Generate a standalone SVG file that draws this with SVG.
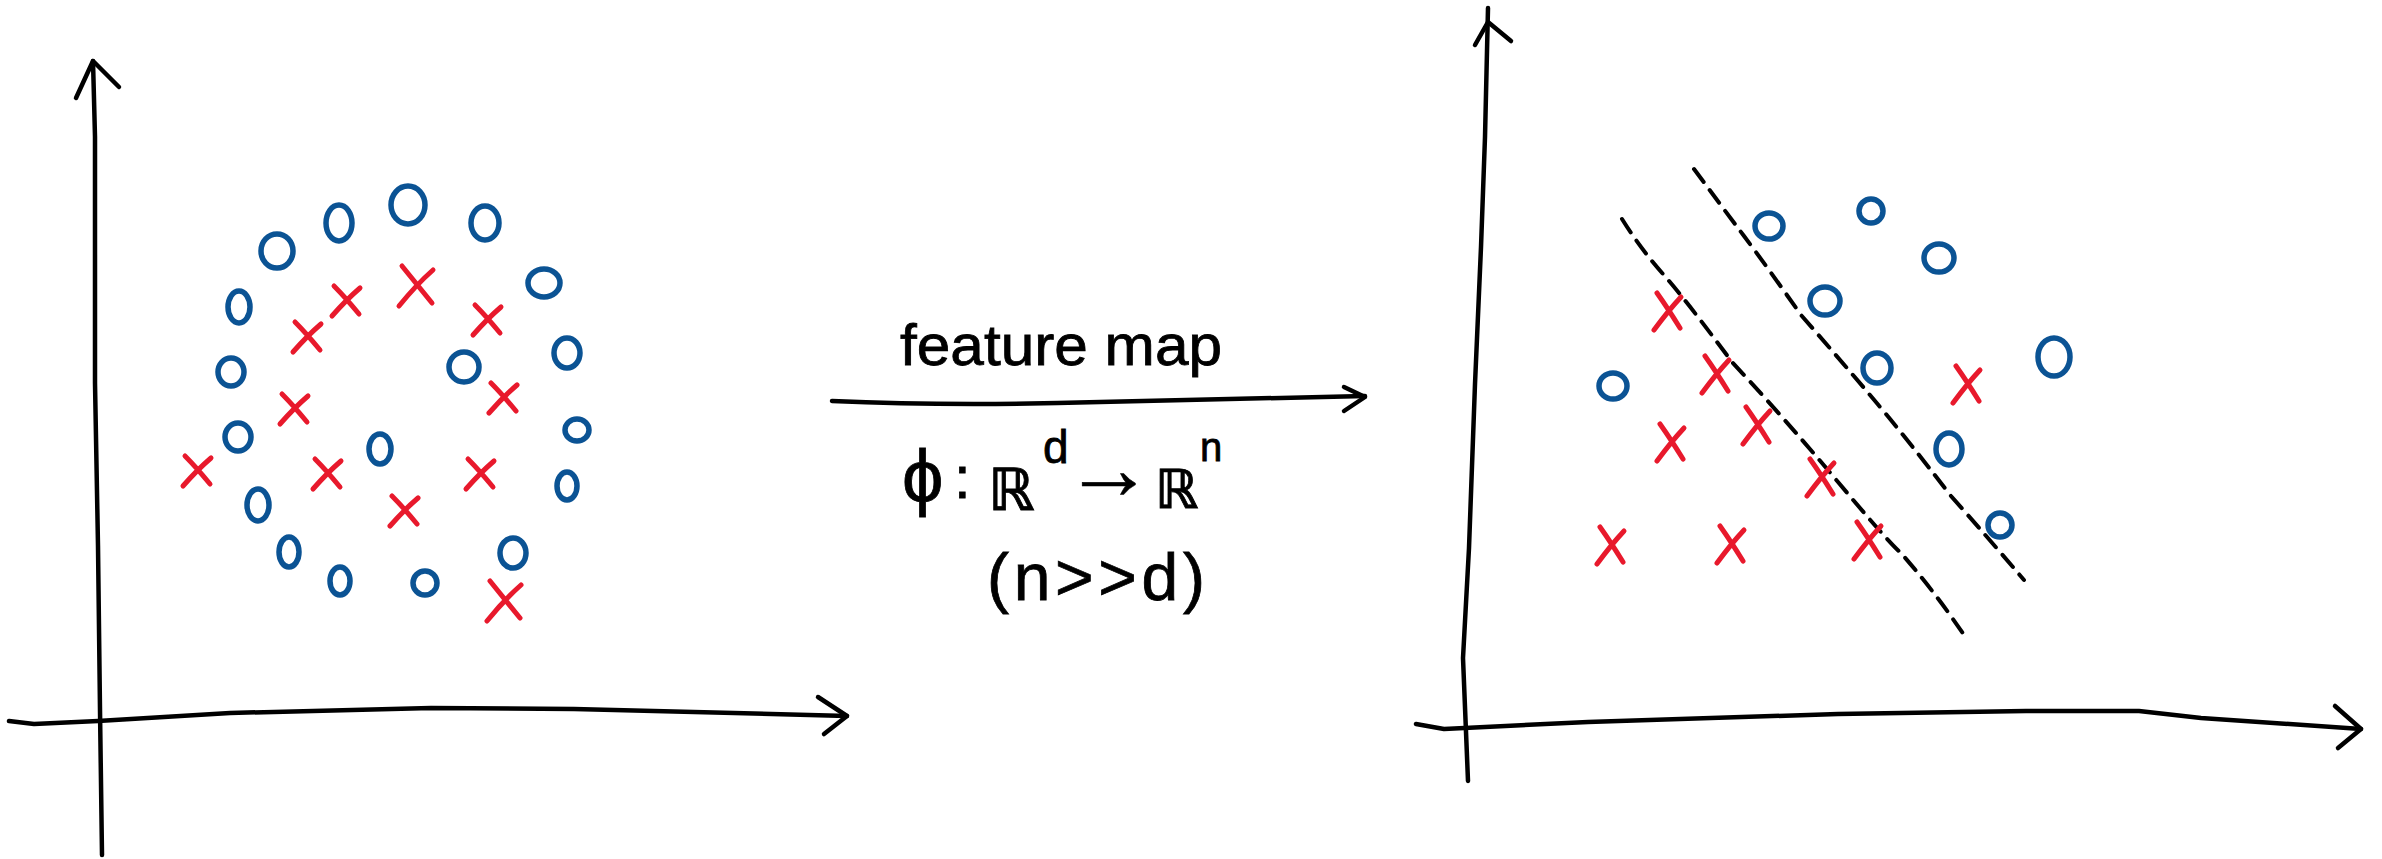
<svg xmlns="http://www.w3.org/2000/svg" xmlns:xlink="http://www.w3.org/1999/xlink" width="2382" height="859" viewBox="0 0 2382 859">
<style>
.ax{fill:none;stroke:#000;stroke-width:4.5;stroke-linecap:round;stroke-linejoin:round}
.dash{fill:none;stroke:#000;stroke-width:4;stroke-linecap:round;stroke-dasharray:16 10}
.o{fill:none;stroke:#0b5394;stroke-width:5.5}
.x{fill:none;stroke:#e8192c;stroke-width:5;stroke-linecap:round}
.t{font-family:"Liberation Sans","DejaVu Sans",sans-serif;fill:#000;stroke:#000;stroke-width:0.8}
.bb{font-family:"DejaVu Sans",sans-serif;font-weight:bold}
.ar{font-family:"Liberation Sans",sans-serif;font-weight:normal;stroke-width:0.5}
</style>
<defs>
<path id="xs" d="M-12,-14 Q-1,-3 13,14 M14,-12 Q0,0 -14,16"/>
<path id="xl" d="M-14,-19 Q-1,-3 16,18 M17,-15 Q0,0 -17,21"/>
<path id="xr" d="M-11,-18 Q-1,-4 12,17 M13,-14 Q0,0 -14,19"/>
</defs>
<rect width="2382" height="859" fill="#fff"/>

<g id="connectors">
<path class="ax" d="M102,855 L100,710 L98,546 L95,383 L95,137 L93,61"/>
<path class="ax" d="M76,98 L93,61 L119,87"/>
<path class="ax" d="M9,721 L34,724 L98,721 L230,713 L431,708 L574,709 L847,716"/>
<path class="ax" d="M818,697 L847,716 L824,734"/>
<path class="ax" d="M832,401 C900,404 1000,405 1100,402 C1200,400 1300,398 1365,396"/>
<path class="ax" d="M1344,387 L1365,397 L1344,411"/>
<path class="ax" d="M1468,781 L1463,658 L1469,548 L1475,384 L1481,247 L1485,137 L1488,8"/>
<path class="ax" d="M1475,45 L1488,22 L1511,41"/>
<path class="ax" d="M1416,724 L1444,729 L1588,722 L1838,714 L2026,711 L2139,711 L2201,718 L2361,729"/>
<path class="ax" d="M2335,706 L2361,729 L2338,748"/>
<path class="dash" d="M1694,169 Q1720,204 1744,236 T1801,315 Q1836,355 1870,395 T1951,496 Q1990,540 2024,580"/>
<path class="dash" d="M1622,219 Q1640,248 1663,274 T1732,362 Q1786,420 1838,482 T1901,553 Q1935,592 1964,635"/>
</g>

<g id="labels">
<text class="t" x="900" y="365" font-size="58" textLength="322" lengthAdjust="spacingAndGlyphs">feature map</text>
<text class="t" font-size="60"><tspan x="902" y="502" font-size="74">ϕ</tspan><tspan x="954" y="498">:</tspan><tspan class="bb" x="988" y="510" font-size="58">ℝ</tspan><tspan x="1043" y="463" font-size="46">d</tspan><tspan class="ar" x="1064" y="499" font-size="90">→</tspan><tspan class="bb" x="1155" y="508" font-size="54">ℝ</tspan><tspan x="1200" y="461" font-size="40">n</tspan></text>
<text class="t" x="987" y="600" font-size="66" textLength="218" lengthAdjust="spacing">(n&gt;&gt;d)</text>
</g>

<g id="left-points">
<g id="lo1"><ellipse class="o" cx="277" cy="251" rx="16" ry="17"/></g>
<g id="lo2"><ellipse class="o" cx="339" cy="223" rx="13" ry="18"/></g>
<g id="lo3"><ellipse class="o" cx="408" cy="205" rx="17" ry="19"/></g>
<g id="lo4"><ellipse class="o" cx="485" cy="223" rx="14" ry="17"/></g>
<g id="lo5"><ellipse class="o" cx="544" cy="283" rx="16" ry="14"/></g>
<g id="lo6"><ellipse class="o" cx="239" cy="307" rx="11" ry="16"/></g>
<g id="lo7"><ellipse class="o" cx="231" cy="372" rx="13" ry="14"/></g>
<g id="lo8"><ellipse class="o" cx="464" cy="367" rx="15" ry="15"/></g>
<g id="lo9"><ellipse class="o" cx="567" cy="353" rx="13" ry="15"/></g>
<g id="lo10"><ellipse class="o" cx="238" cy="437" rx="13" ry="14"/></g>
<g id="lo11"><ellipse class="o" cx="380" cy="449" rx="11" ry="15"/></g>
<g id="lo12"><ellipse class="o" cx="577" cy="430" rx="12" ry="11"/></g>
<g id="lo13"><ellipse class="o" cx="567" cy="486" rx="10" ry="14"/></g>
<g id="lo14"><ellipse class="o" cx="258" cy="505" rx="11" ry="16"/></g>
<g id="lo15"><ellipse class="o" cx="289" cy="552" rx="10" ry="15"/></g>
<g id="lo16"><ellipse class="o" cx="513" cy="553" rx="13" ry="15"/></g>
<g id="lo17"><ellipse class="o" cx="340" cy="581" rx="10" ry="14"/></g>
<g id="lo18"><ellipse class="o" cx="425" cy="583" rx="12" ry="12"/></g>
<g id="lx1"><use class="x" href="#xs" x="346" y="300"/></g>
<g id="lx2"><use class="x" href="#xl" x="416" y="285"/></g>
<g id="lx3"><use class="x" href="#xs" x="487" y="319"/></g>
<g id="lx4"><use class="x" href="#xs" x="307" y="336"/></g>
<g id="lx5"><use class="x" href="#xs" x="503" y="397"/></g>
<g id="lx6"><use class="x" href="#xs" x="294" y="408"/></g>
<g id="lx7"><use class="x" href="#xs" x="197" y="470"/></g>
<g id="lx8"><use class="x" href="#xs" x="327" y="473"/></g>
<g id="lx9"><use class="x" href="#xs" x="480" y="473"/></g>
<g id="lx10"><use class="x" href="#xs" x="404" y="510"/></g>
<g id="lx11"><use class="x" href="#xl" x="504" y="600"/></g>
</g>

<g id="right-points">
<g id="ro1"><ellipse class="o" cx="1769" cy="226" rx="14" ry="13"/></g>
<g id="ro2"><ellipse class="o" cx="1871" cy="211" rx="12" ry="12"/></g>
<g id="ro3"><ellipse class="o" cx="1939" cy="258" rx="15" ry="14"/></g>
<g id="ro4"><ellipse class="o" cx="1825" cy="301" rx="15" ry="14"/></g>
<g id="ro5"><ellipse class="o" cx="2054" cy="357" rx="16" ry="19"/></g>
<g id="ro6"><ellipse class="o" cx="1613" cy="386" rx="14" ry="13"/></g>
<g id="ro7"><ellipse class="o" cx="1877" cy="368" rx="14" ry="15"/></g>
<g id="ro8"><ellipse class="o" cx="1949" cy="449" rx="13" ry="16"/></g>
<g id="ro9"><ellipse class="o" cx="2000" cy="525" rx="12" ry="12"/></g>
<g id="rx1"><use class="x" href="#xr" x="1668" y="311"/></g>
<g id="rx2"><use class="x" href="#xr" x="1716" y="374"/></g>
<g id="rx3"><use class="x" href="#xr" x="1757" y="425"/></g>
<g id="rx4"><use class="x" href="#xr" x="1671" y="442"/></g>
<g id="rx5"><use class="x" href="#xr" x="1967" y="384"/></g>
<g id="rx6"><use class="x" href="#xr" x="1821" y="477"/></g>
<g id="rx7"><use class="x" href="#xr" x="1611" y="545"/></g>
<g id="rx8"><use class="x" href="#xr" x="1731" y="544"/></g>
<g id="rx9"><use class="x" href="#xr" x="1868" y="540"/></g>
</g>
</svg>
